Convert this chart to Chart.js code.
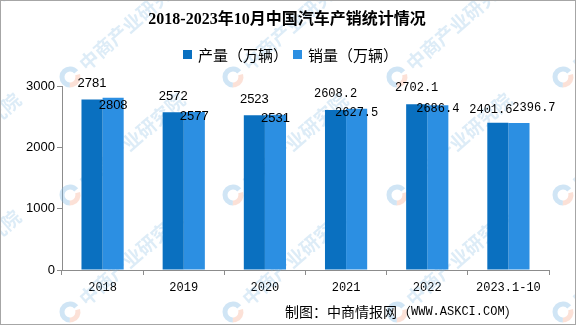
<!DOCTYPE html>
<html>
<head>
<meta charset="utf-8">
<script src="https://cdn.jsdelivr.net/npm/chart.js@4"></script>
<style>
  html, body { margin: 0; padding: 0; background: #fff; }
  #wrap { width: 576px; height: 327px; }
</style>
</head>
<body>
<div id="wrap"><canvas id="myChart" width="576" height="327"></canvas></div>
<script>
const years = ['2018', '2019', '2020', '2021', '2022', '2023.1-10'];
const production = [2781, 2572, 2523, 2608.2, 2702.1, 2401.6];
const sales = [2808, 2577, 2531, 2627.5, 2686.4, 2396.7];
const yTicks = [0, 1000, 2000, 3000];

const darkBlue = '#0A70C0'
const lightBlue = '#2C8FE2'

// little nudges so labels don't sit on top of each other (last group)
const labelNudge = {
    0: [{ dx: 0, dy: 0 }, { dx: 0, dy: 4 }],
    5: [{ dx: -7, dy: 3 }, { dx: 15, dy: -19 }]
}

const watermark = {
    id: 'watermark',
    beforeDatasetsDraw(chart) {
        const c = chart.ctx
        c.save()
        const xs = [-94, 70, 233, 397, 563]
        const ys = [77, 195, 312]
        ys.forEach(y => {
            xs.forEach(x => {
                c.save()
                c.translate(x, y)
                // round logo
                c.lineWidth = 5
                c.strokeStyle = 'rgba(245,170,140,0.35)'
                c.beginPath(); c.arc(0, 0, 8, -0.3, 1.6); c.stroke()
                c.strokeStyle = 'rgba(120,180,225,0.35)'
                c.beginPath(); c.arc(0, 0, 8, 1.6, 5.6); c.stroke()
                c.rotate(-0.72)
                c.fillStyle = 'rgba(120,180,225,0.25)'
                c.font = 'bold 19px "Noto Sans CJK SC"'
                c.textBaseline = 'middle'
                c.fillText('中商产业研究院', 16, 0)
                c.restore()
            })
        })
        c.restore()
    }
}

const extras = {
    id: 'extras',
    afterDraw(chart) {
        const c = chart.ctx
        c.save()
        // title
        c.fillStyle = '#000'
        c.textAlign = 'center'
        c.textBaseline = 'middle'
        c.font = 'bold 16px "Liberation Serif", "Noto Sans CJK SC"'
        c.fillText('2018-2023年10月中国汽车产销统计情况', 287, 20)

        // legend
        c.font = '15px "Noto Sans CJK SC"'
        c.textAlign = 'left'
        const items = [['产量（万辆）', darkBlue], ['销量（万辆）', lightBlue]]
        let lx = 183
        items.forEach(it => {
            c.fillStyle = it[1]
            c.fillRect(lx, 50, 9, 9)
            c.fillStyle = '#000'
            c.fillText(it[0], lx + 15, 55)
            lx += 110
        })

        // source
        c.font = '14px "Noto Sans CJK SC"'
        c.fillText('制图：中商情报网（', 285, 312)
        let w = c.measureText('制图：中商情报网（').width
        c.font = '12px "Liberation Mono"'
        c.fillText('WWW.ASKCI.COM', 285 + w, 312)
        w += c.measureText('WWW.ASKCI.COM').width
        c.font = '14px "Noto Sans CJK SC"'
        c.fillText('）', 285 + w, 312)

        // frame
        c.strokeStyle = '#a6a6a6'
        c.lineWidth = 1
        c.strokeRect(0.5, 0.5, 575, 324)
        c.restore()
    }
}

const barLabels = {
    id: 'barLabels',
    afterDatasetsDraw(chart) {
        const c = chart.ctx
        c.save()
        c.fillStyle = '#000'
        c.textAlign = 'center'
        c.textBaseline = 'middle'
        chart.data.datasets.forEach((ds, di) => {
            const meta = chart.getDatasetMeta(di)
            meta.data.forEach((bar, i) => {
                const v = ds.data[i]
                const txt = String(v)
                c.font = Number.isInteger(v) ? '13px "Liberation Sans"' : '12px "Liberation Mono"'
                const n = (labelNudge[i] && labelNudge[i][di]) || { dx: 0, dy: 0 }
                const y = di === 0 ? bar.y - 16 : bar.y + 4
                c.fillText(txt, bar.x + n.dx, y + n.dy)
            })
        })
        c.restore()
    }
}

const ctx = document.getElementById('myChart').getContext('2d');
const myChart = new Chart(ctx, {
    type: 'bar',
    data: {
        labels: years,
        datasets: [{
            label: '产量（万辆）',
            data: production,
            backgroundColor: darkBlue,
            categoryPercentage: 0.52,
            barPercentage: 1
        }, {
            label: '销量（万辆）',
            data: sales,
            backgroundColor: lightBlue,
            categoryPercentage: 0.52,
            barPercentage: 1
        }]
    },
    options: {
        responsive: false,
        animation: false,
        layout: {
            padding: { top: 86, right: 27, left: 0, bottom: 0 }
        },
        plugins: {
            legend: { display: false },
            tooltip: { enabled: false }
        },
        scales: {
            x: {
                afterFit: s => { s.height = 57 },
                border: { color: '#8c8c8c', width: 1 },
                grid: { offset: true, drawOnChartArea: false, tickLength: 5, color: '#8c8c8c' },
                ticks: {
                    color: '#000',
                    padding: 6,
                    font: { family: 'Liberation Mono', size: 12 }
                }
            },
            y: {
                min: 0,
                max: 3000,
                afterFit: s => { s.width = 62 },
                afterBuildTicks: s => { s.ticks = yTicks.map(v => ({ value: v })) },
                border: { color: '#8c8c8c', width: 1 },
                grid: { drawOnChartArea: false, tickLength: 5, color: '#8c8c8c' },
                ticks: {
                    color: '#000',
                    padding: 2,
                    font: { family: 'Liberation Sans', size: 13 },
                    callback: v => String(v)
                }
            }
        }
    },
    plugins: [watermark, barLabels, extras]
});
</script>
</body>
</html>
